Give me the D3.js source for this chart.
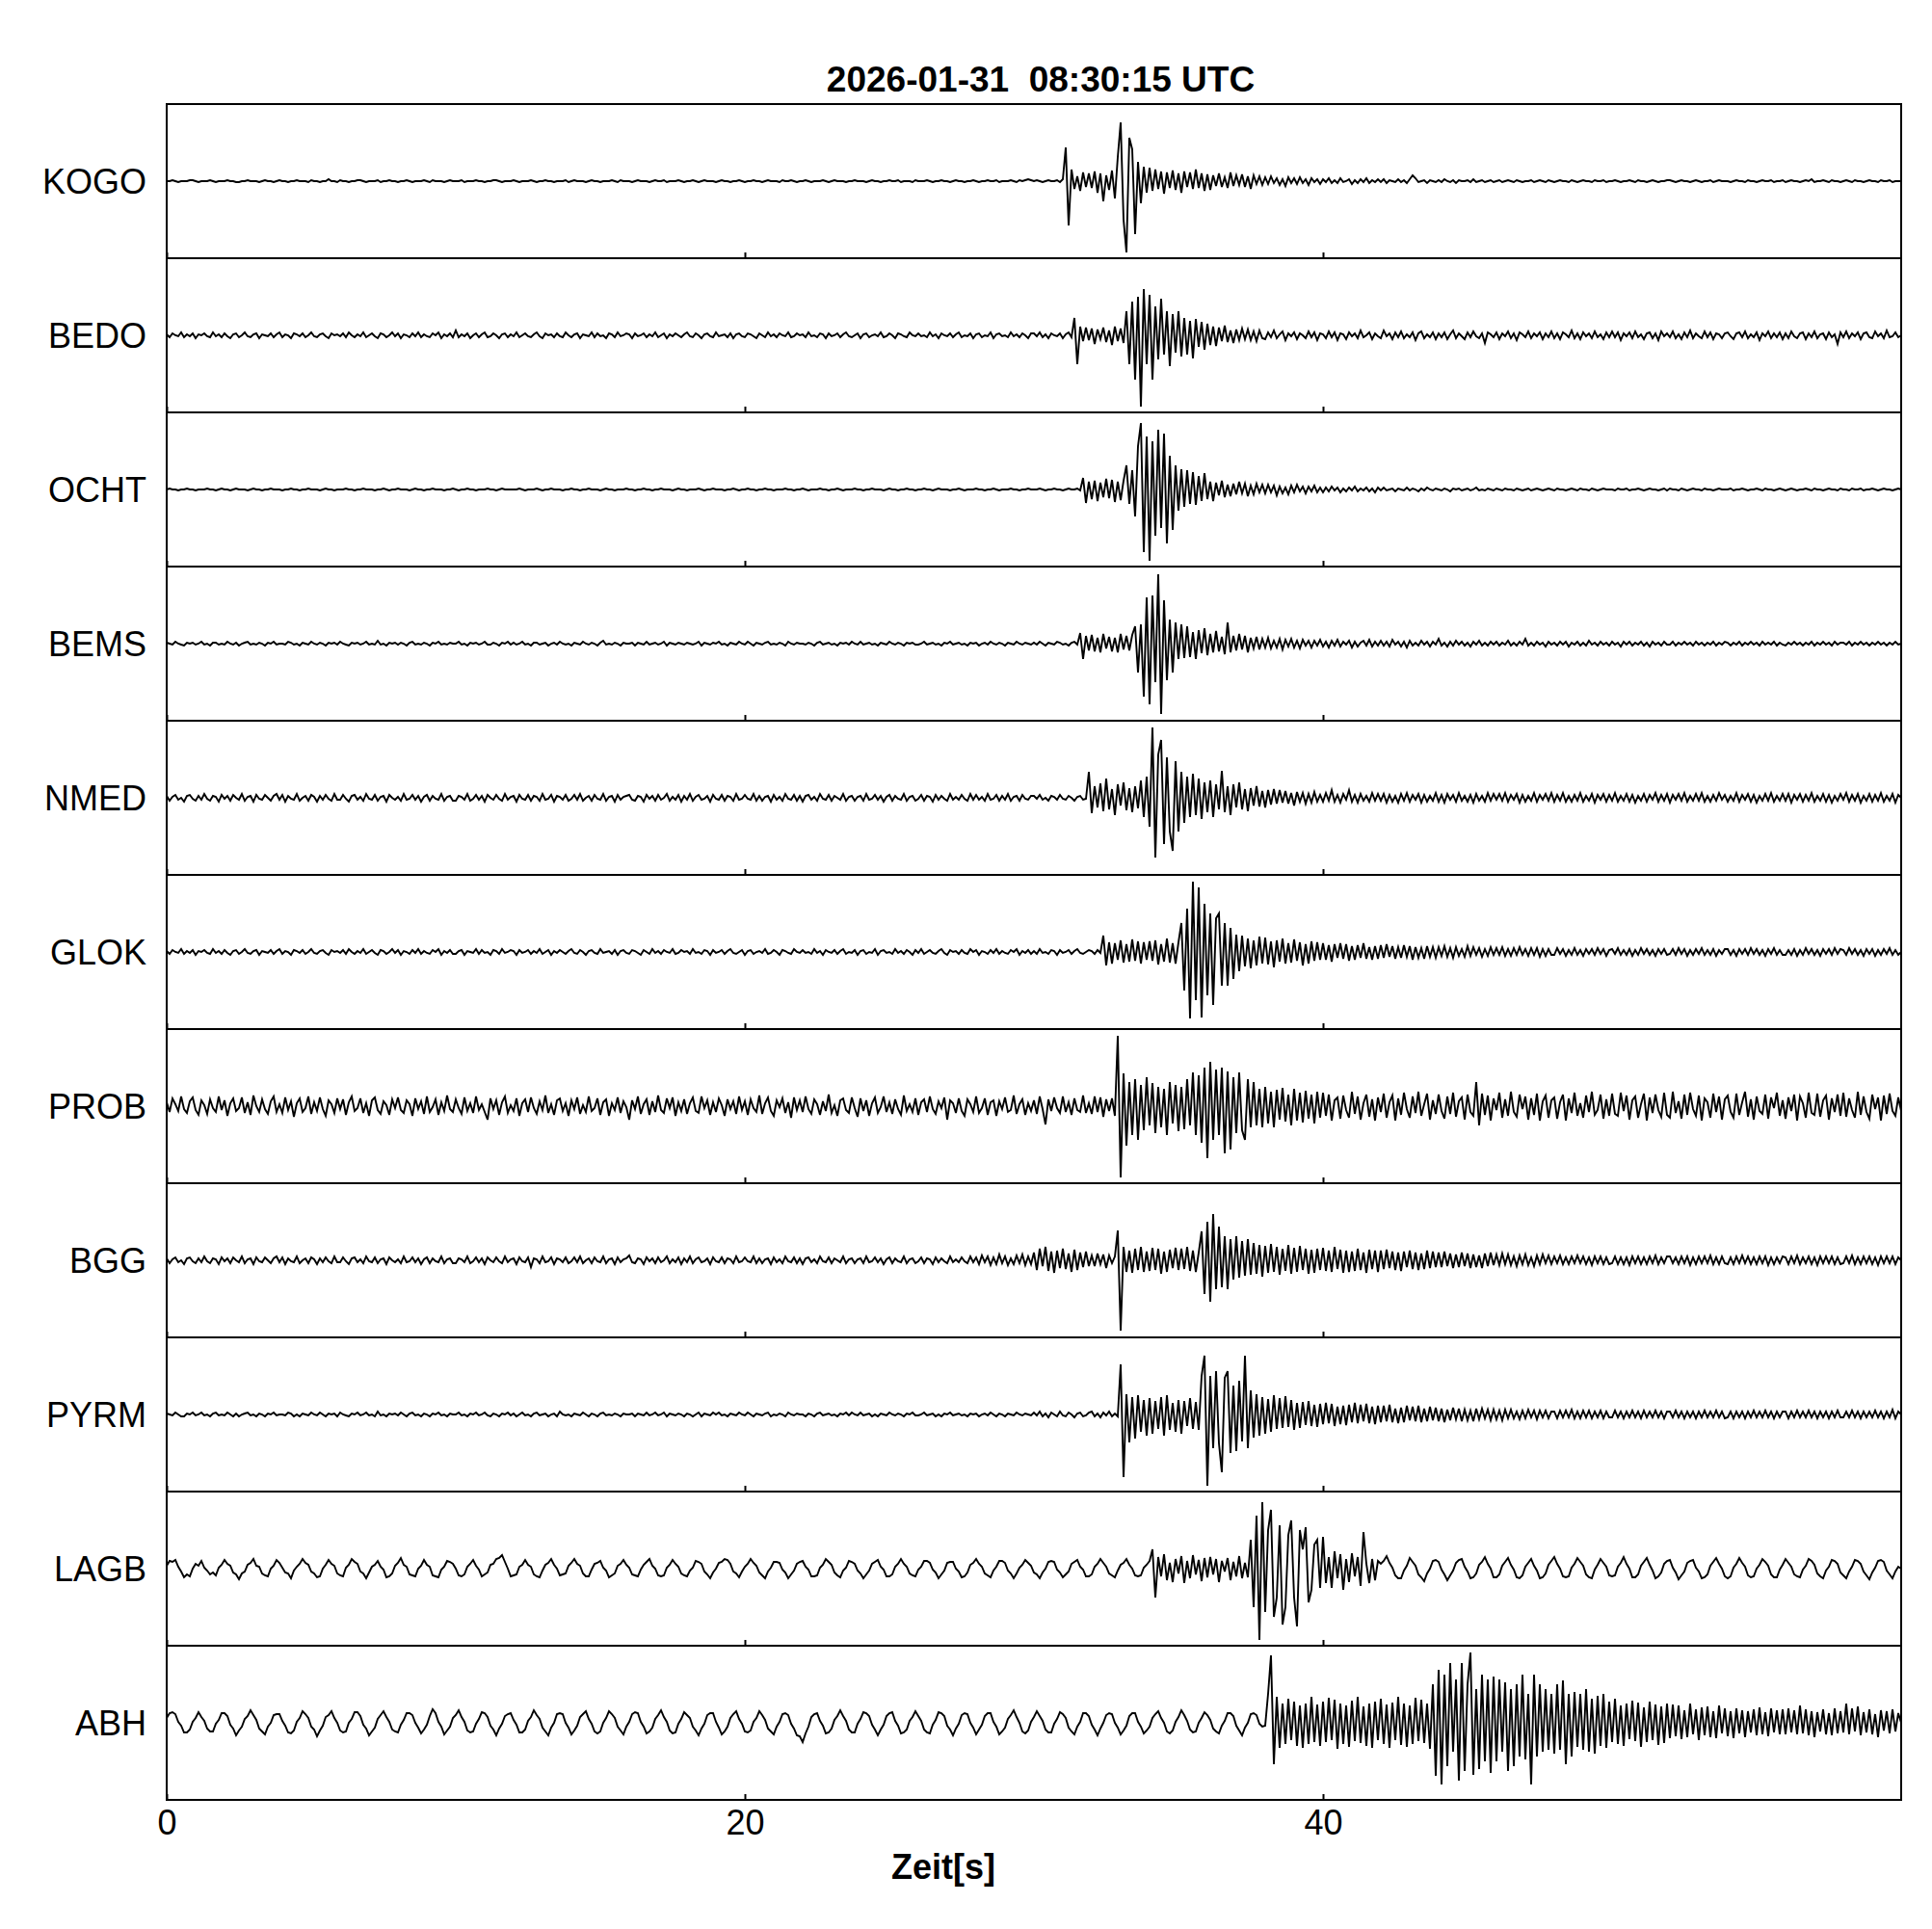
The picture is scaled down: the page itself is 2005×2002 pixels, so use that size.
<!DOCTYPE html>
<html>
<head>
<meta charset="utf-8">
<script src="https://cdn.jsdelivr.net/npm/d3@7"></script>
<style>
body { margin: 0; background: #fff; }
text { font-family: "Liberation Sans", Arial, sans-serif; fill: #000; }
</style>
</head>
<body>
<script>
// station names, top to bottom
var stations = ["KOGO", "BEDO", "OCHT", "BEMS", "NMED", "GLOK", "PROB", "BGG", "PYRM", "LAGB", "ABH"];
var title = "2026-01-31  08:30:15 UTC";
var xLabel = "Zeit[s]";
var xTicks = [0, 20, 40];
var dt = 0.1; // seconds between samples, one row = 2 s

// trace amplitudes, t = 0 ... 60 s
var kogo = [
0,0,1,0,-1,0,0,0,1,1,0,-1,0,0,0,1,0,-1,0,0,
0,1,0,0,-1,-1,0,0,1,0,0,0,-1,0,1,0,0,-1,0,1,
0,0,-1,0,0,1,0,0,0,-1,1,0,0,-1,0,0,2,0,0,-1,
1,0,0,-1,0,0,1,1,0,-1,0,0,0,1,-1,0,0,1,0,0,
-1,0,0,1,0,-1,0,0,0,1,0,-1,1,0,0,0,-1,0,1,0,
0,0,1,-1,0,0,0,1,0,0,-1,0,0,1,1,0,-1,0,0,0,
1,0,-1,0,0,0,1,0,-1,0,0,1,0,0,-1,0,0,0,1,-1,
0,1,0,0,0,-1,0,1,0,0,-1,0,0,0,1,0,-1,1,0,0,
0,-1,0,1,0,0,0,-1,0,1,0,0,1,-1,0,0,0,1,0,-1,
0,0,1,0,-1,0,1,0,0,0,-1,0,1,0,0,-1,0,0,1,0,
-1,0,0,1,0,0,-1,0,1,0,0,0,-1,1,0,0,1,0,-1,0,
0,1,0,-1,0,0,0,1,0,-1,0,1,0,0,0,-1,0,0,1,0,
0,0,-1,0,1,0,0,-1,0,0,1,0,0,1,-1,0,0,0,-1,1,
0,0,0,1,0,-1,0,0,1,0,0,-1,0,1,0,0,-1,0,0,1,
0,-1,0,0,1,0,0,1,-1,0,0,0,1,0,-1,1,0,1,2,1,
0,1,0,-1,0,1,0,0,1,-1,2,35,-46,12,-8,5,-10,9,-6,8,
-7,10,-12,8,-21,6,-9,11,-18,25,61,-40,-74,45,33,-55,20,-23,15,-12,
14,-10,12,-8,10,-13,9,-7,11,-9,8,-12,10,-6,9,-8,12,-7,8,-10,
7,-9,6,-5,8,-6,4,-7,9,-5,6,-4,7,-6,5,-8,6,-3,5,-4,
4,-3,5,-2,3,-4,2,-5,4,-2,3,-3,4,-2,2,-4,3,-1,2,-3,
2,-1,3,-2,1,-2,3,-1,0,2,-3,1,-2,2,-1,3,-2,1,-1,2,
-1,2,-2,1,0,-1,2,-1,1,-2,2,6,3,-1,0,1,-2,1,0,-1,
1,-1,2,0,-1,1,-2,1,0,0,1,-1,2,-1,0,1,-1,0,1,-1,
0,1,-1,0,1,0,-1,1,0,-1,0,0,1,-1,0,1,0,-1,1,0,
-1,0,1,0,0,-1,1,0,-1,0,1,0,0,-1,1,0,0,1,-1,0,
0,1,0,-1,0,0,1,0,-1,1,0,0,-1,0,1,0,-1,0,0,1,
1,0,-1,0,1,0,0,-1,0,1,0,-1,0,0,1,-1,0,1,0,0,
0,-1,0,1,0,0,-1,1,0,0,-1,0,1,0,0,1,-1,0,0,1,
-1,0,1,0,0,-1,0,1,0,2,-1,0,0,1,0,-1,1,0,0,-1,
0,1,0,-1,1,0,0,-1,0,1,0,0,-1,1,0,0,1,-1,0,0, 0];

var bedo = [
1,-2,2,0,-1,3,-2,1,-1,2,-3,1,0,2,-1,-2,3,-1,1,-2,
2,-1,-3,1,2,-2,0,3,-1,-2,1,2,-3,1,0,-1,2,-2,1,3,
-2,1,0,-3,2,1,-1,2,-2,0,3,-1,-2,1,2,-1,-3,2,0,1,
-1,2,-2,3,0,-2,1,-1,3,-2,0,2,-1,-3,2,1,-2,0,3,-1,
2,-3,1,0,-2,2,-1,3,-2,1,-1,-2,2,0,3,-3,1,-1,2,-2,
5,-2,1,-1,2,-3,0,2,-2,1,3,-2,-1,2,0,-3,1,2,-2,1,
-1,3,-2,0,2,-1,-2,1,3,-1,-3,2,0,1,-2,2,-1,-2,3,0,
-2,1,2,-3,1,0,-1,3,-2,2,-1,0,-3,2,1,-2,3,-1,0,2,
1,-3,2,-1,0,2,-2,1,-1,3,-2,0,2,-3,1,-1,2,0,-2,1,
3,-1,-2,2,0,-3,1,2,-1,-2,3,-1,0,1,-2,2,-3,1,2,-1,
-2,2,1,-1,-3,2,0,-2,3,-1,1,-2,2,0,-1,3,-2,-1,2,0,
1,-2,3,-1,0,-2,2,1,-3,2,-1,0,2,-2,1,3,-1,-2,0,2,
-3,1,2,-2,0,1,-1,3,-2,-1,2,0,-3,2,1,-1,-2,3,0,-1,
2,-1,0,-2,3,-1,1,-3,2,0,-1,2,-2,1,3,-2,0,-1,2,-3,
1,2,-2,0,-1,3,-3,1,2,-1,0,-2,3,-1,1,-2,2,0,-3,2,
2,-1,3,-2,1,-3,2,0,-1,2,-3,1,3,-2,18,-30,9,-6,8,-5,
7,-9,6,-4,8,-7,5,-10,9,-6,7,-8,25,-30,35,-46,40,-74,48,-30,
42,-46,30,-25,38,-20,25,-32,22,-18,25,-22,18,-20,15,-24,17,-12,14,-15,
12,-10,9,-11,8,-6,10,-7,5,-8,6,-5,7,-4,6,-5,4,-6,5,-3,
-4,3,-2,5,-3,1,4,-5,2,-1,3,-4,2,0,-3,4,-2,3,-5,2,
1,-3,4,-2,3,-5,2,1,-4,3,-1,2,-3,5,-2,0,3,-4,2,-1,
-3,5,-1,2,-4,3,-2,4,-3,1,-2,3,-5,2,4,-3,1,-2,3,-4,
2,-2,3,-4,1,5,-3,2,-1,-4,3,-2,4,-1,-3,2,-8,3,1,-2,
3,-4,2,-1,4,-3,2,-5,3,1,-2,4,-3,2,-1,3,-4,2,-2,4,
-3,2,-4,3,1,-2,5,-3,2,-4,3,-1,2,-3,4,-2,1,-4,3,-2,
4,-2,3,-5,2,-1,3,-3,4,-2,1,-4,2,3,-3,2,-5,4,-1,2,
-2,4,-3,1,-4,3,-2,5,-3,2,-1,-3,4,-2,3,-4,2,1,-3,2,
3,-1,-4,2,3,-2,4,-3,1,-2,3,-5,2,-1,4,-3,2,-2,3,-4,
2,-3,4,-1,-3,2,3,-4,2,-2,4,-3,1,2,-4,3,-2,1,-9,3,
-2,4,-3,2,-1,3,-4,2,3,-2,-3,4,-1,2,-3,5,-2,-1,3,-2, 0];

var ocht = [
0,1,0,0,-1,0,0,1,0,0,-1,0,0,0,1,0,0,-1,0,1,
0,0,-1,0,1,0,0,0,-1,0,1,0,0,-1,0,0,1,0,0,0,
-1,0,0,1,0,0,-1,0,0,1,0,0,0,-1,0,1,0,0,-1,0,
0,0,1,0,0,-1,0,0,1,0,0,0,-1,0,0,1,0,-1,0,0,
1,0,0,0,-1,0,1,0,0,-1,0,0,1,0,0,0,-1,0,0,1,
0,-1,0,0,1,0,0,-1,0,0,0,1,0,0,-1,0,1,0,0,0,
0,0,1,0,-1,0,0,0,1,0,-1,0,0,1,0,0,0,-1,0,0,
1,0,0,-1,0,0,1,0,0,0,-1,0,1,0,0,-1,0,0,0,1,
0,0,-1,0,0,1,0,0,-1,0,0,1,0,0,0,-1,0,1,0,0,
-1,0,0,0,1,0,-1,0,0,1,0,0,0,-1,0,0,1,0,-1,0,
0,1,0,0,-1,0,0,1,0,0,-1,0,0,0,1,0,0,-1,0,0,
1,0,-1,0,0,0,1,0,0,-1,0,0,1,0,-1,0,0,0,1,0,
0,-1,0,0,1,0,0,0,-1,0,1,0,0,-1,0,0,1,0,0,-1,
0,0,1,0,0,-1,0,1,0,0,0,-1,0,0,1,0,-1,0,0,0,
1,0,0,-1,0,0,1,0,-1,0,0,0,1,0,0,-1,0,0,1,0,
0,0,1,0,-1,0,0,1,0,0,-1,0,1,0,0,1,-1,12,-14,8,
-10,9,-12,7,-8,11,-9,10,-13,8,-11,9,25,-15,20,-28,45,69,-65,55,
-74,50,-48,62,-40,58,-56,35,-42,25,-22,21,-18,20,-15,18,-16,14,-12,17,
-10,8,-12,7,-6,9,-8,5,-7,6,-5,8,-4,6,-7,4,-5,6,-3,5,
-4,5,-3,4,-6,3,-4,2,-5,4,-3,5,-2,3,-4,3,-2,4,-3,2,
-3,2,-2,3,-1,2,-3,1,-2,2,-1,3,-2,1,-1,2,-2,1,-3,2,
-1,2,-1,0,1,-2,1,0,-1,2,-1,1,0,-2,1,-1,2,0,-1,1,
0,-1,1,0,-2,1,0,1,-1,0,1,-1,0,2,-1,0,-1,1,0,-1,
1,0,-1,1,0,0,-1,1,0,-1,0,1,-1,0,1,0,-1,0,1,0,
-1,1,0,0,-1,0,1,0,-1,1,0,0,-1,1,0,-1,0,1,0,0,
0,-1,1,0,0,1,-1,0,0,1,0,-1,0,1,0,0,-1,0,1,-1,
1,0,0,-1,1,0,-1,0,1,0,0,-1,1,0,0,-1,0,1,0,0,
0,1,-1,0,0,1,0,-1,0,0,1,0,-1,1,0,0,-1,0,1,0,
-1,0,1,0,-1,0,0,1,0,-1,1,0,0,-1,0,1,0,0,-1,1,
0,0,-1,1,0,0,1,-1,0,0,1,0,-1,0,1,0,0,-1,0,1, 0];

var bems = [
1,0,-1,2,0,-1,-2,1,0,1,-1,0,2,-1,0,-2,1,1,-1,0,
-1,2,0,-1,1,-2,0,1,2,-1,0,-1,1,0,-2,1,0,2,-1,0,
0,-1,2,1,-1,0,-2,1,0,-1,2,0,-1,1,0,-2,1,0,1,-1,
2,0,-1,-2,1,0,1,-1,0,2,-1,0,-1,3,-1,0,-2,1,0,1,
-1,1,0,-2,1,2,-1,0,-1,1,0,-2,1,0,2,-1,0,-1,1,0,
0,2,-1,0,-2,1,0,1,-1,0,2,-1,-1,1,0,-2,1,0,2,-1,
1,-1,0,2,-1,0,-2,1,1,-1,0,1,-2,0,1,-1,2,0,-1,0,
-2,1,0,-1,2,0,-1,1,0,-2,1,3,-1,0,-1,1,0,-2,1,0,
0,1,-2,1,0,-1,2,-1,0,1,-1,0,2,-2,1,0,-1,1,0,-1,
1,0,-1,0,2,-2,1,0,-1,1,0,2,-1,0,-2,1,0,-1,2,0,
-1,2,0,-2,1,0,-1,1,2,-1,0,-1,1,0,-2,2,0,-1,1,0,
0,-1,1,0,-2,1,2,-1,0,1,-1,0,-2,1,0,1,-1,2,0,-1,
2,-1,0,1,-1,0,-2,1,0,-1,2,0,-1,1,0,-2,1,0,1,-1,
-1,0,2,-1,0,1,-1,0,-2,1,0,2,-1,0,1,-1,0,-2,1,0,
1,-2,0,1,-1,2,0,-1,1,0,-2,1,0,-1,2,0,-1,1,0,-1,
1,-1,2,0,-2,1,0,-1,2,1,-1,0,-2,1,2,-1,11,-16,8,-7,
9,-8,6,-9,10,-5,7,-8,6,-9,10,-6,8,-7,9,18,-30,20,-55,48,
-63,50,-40,72,-73,45,-38,25,-30,22,-16,20,-15,18,-14,12,-16,14,-10,16,
-12,10,-9,13,-8,7,-11,22,-9,8,-7,10,-6,8,-9,6,-5,7,-6,5,
-4,6,-5,3,-4,5,-6,4,-3,5,-4,3,-5,4,-2,3,-4,3,-2,4,
-3,2,-4,3,-2,4,-3,2,-1,3,-4,2,-3,1,3,-2,4,-3,2,-2,
3,-2,2,-3,4,-1,2,-3,2,-4,3,-2,1,-2,3,-1,2,-3,2,-1,
5,-2,1,-3,2,-2,3,-1,2,-2,1,-3,2,-1,3,-2,1,-2,2,-1,
2,-2,1,-1,3,-2,1,-2,2,-1,5,-2,1,-2,2,-1,1,-3,2,-1,
1,-2,2,-1,2,-3,1,-1,2,-2,1,-2,3,-1,1,-2,2,-1,1,-2,
2,-1,1,-3,2,-1,2,-2,1,-1,2,-2,1,-3,2,-1,1,-2,2,-1,
-1,2,-2,1,-1,2,-1,1,-2,2,-1,1,-2,1,-1,2,-2,1,-1,2,
1,-2,1,-1,2,-2,1,-1,2,-1,1,-2,2,-1,1,-1,2,-2,1,-1,
-2,1,-1,2,-1,1,-2,1,-1,2,-2,1,-1,2,-1,1,-2,2,-1,1,
1,-1,2,-2,1,-1,2,-1,1,-2,1,-1,2,-1,1,-2,1,-1,2,-1, 0];

var nmed = [
2,-3,1,3,-2,0,-4,2,3,-1,-3,2,-2,4,-1,-3,2,1,-4,3,
-1,2,-3,3,0,-2,4,-3,1,2,-4,3,-1,-2,3,0,-3,2,4,-2,
3,-4,2,-1,-2,4,-3,0,2,-3,3,1,-4,2,-2,3,-1,-3,4,-2,
-2,3,-1,-4,2,3,-2,1,-3,4,-1,-2,3,-3,1,2,-4,3,0,-2,
1,-3,4,-2,-1,3,-2,2,-4,1,3,-3,2,-1,-2,4,-3,1,2,-3,
-3,2,1,-2,4,-3,-1,3,-2,2,-4,3,0,-2,3,-1,-3,4,-2,1,
2,-4,3,-1,-2,3,-3,2,1,-3,4,-2,-1,3,-4,2,1,-2,3,-3,
-1,3,-2,4,-3,0,2,-3,3,-1,-2,4,-3,1,2,-4,3,-2,1,2,
3,-2,-3,2,1,-4,3,-1,2,-3,3,-2,0,4,-3,1,-2,3,-4,2,
-2,4,-3,1,3,-2,-1,2,-4,3,-1,-2,3,-3,2,1,-3,4,-2,-1,
3,-1,-2,4,-3,2,-3,1,2,-4,3,-2,1,-3,4,-1,-2,3,-3,2,
-4,2,3,-2,1,-3,4,-1,-2,3,-3,2,0,-2,4,-3,1,2,-3,1,
2,-3,4,-2,-1,3,-2,2,-4,1,3,-3,2,-1,-2,4,-3,1,2,-3,
-1,3,-3,2,1,-4,3,-2,2,-1,-3,4,-2,1,-2,3,-1,-3,4,-2,
3,-2,1,-3,4,-2,-1,3,-3,2,-2,4,-3,1,2,-3,3,-1,-2,2,
2,-1,3,-2,0,-3,2,1,-2,3,-1,-2,2,0,-3,1,2,-2,-1,27,
-16,12,-10,15,-14,20,-12,9,-18,14,-8,16,-13,10,-15,12,-11,18,-20,22,
-30,73,-62,45,60,-48,42,-35,-55,38,-35,27,-26,22,-20,25,-18,20,-22,16,
-15,18,-20,14,-12,28,-15,12,-18,14,-10,16,-12,9,-14,10,-8,12,-9,7,
-10,8,-7,9,-6,8,-5,7,-6,5,-8,6,-4,5,-6,4,-5,6,-4,3,
-4,5,-3,8,-4,3,-5,4,-2,8,-4,3,-5,4,-3,2,-4,5,-3,4,
-3,4,-5,3,-4,2,-5,4,-3,5,-4,3,-2,4,-5,3,-4,2,-3,5,
-4,3,-5,4,-2,3,-4,5,-3,2,-4,3,-5,4,-3,2,-4,5,-3,4,
-2,4,-3,5,-4,3,-2,4,-5,3,-4,2,-3,5,-4,3,-2,4,-3,5,
-4,3,-3,5,-4,2,-4,3,-3,5,-4,2,-3,4,-5,3,-2,4,-4,3,
-3,5,-4,2,-3,4,-4,3,-5,2,-3,4,-4,3,-2,5,-4,3,-3,4,
-5,3,-2,4,-3,5,-4,2,-3,4,-3,5,-4,2,-4,3,-3,5,-2,3,
-4,2,-3,5,-4,3,-2,4,-4,3,-5,2,-3,4,-3,5,-4,2,-3,4,
-3,4,-5,3,-2,4,-4,3,-3,5,-4,2,-3,4,-4,3,-5,2,-3,4,
-2,5,-4,3,-3,4,-5,2,-3,4,-4,3,-3,5,-4,2,-3,4,-5,3, 0];

var glok = [
1,-2,2,0,-1,3,-2,1,-1,2,-3,1,0,2,-1,-2,3,-1,1,-2,
2,-1,-3,1,2,-2,0,3,-1,-2,1,2,-3,1,0,-1,2,-2,1,3,
-2,1,0,-3,2,1,-1,2,-2,0,3,-1,-2,1,2,-1,-3,2,0,1,
-1,2,-2,3,0,-2,1,-1,3,-2,0,2,-1,-3,2,1,-2,0,3,-1,
2,-3,1,0,-2,2,-1,3,-2,1,-1,-2,2,0,3,-3,1,-1,2,-2,
-2,1,2,-3,1,0,-1,3,-2,2,-1,0,-3,2,1,-2,3,-1,0,2,
1,-3,2,-1,0,2,-2,1,-1,3,-2,0,2,-3,1,-1,2,0,-2,1,
3,-1,-2,2,0,-3,1,2,-1,-2,3,-1,0,1,-2,2,-3,1,2,-1,
-2,2,1,-1,-3,2,0,-2,3,-1,1,-2,2,0,-1,3,-2,-1,2,0,
1,-2,3,-1,0,-2,2,1,-3,2,-1,0,2,-2,1,3,-1,-2,0,2,
-3,1,2,-2,0,1,-1,3,-2,-1,2,0,-3,2,1,-1,-2,3,0,-1,
2,-1,0,-2,3,-1,1,-3,2,0,-1,2,-2,1,3,-2,0,-1,2,-3,
1,2,-2,0,-1,3,-3,1,2,-1,0,-2,3,-1,1,-2,2,0,-3,2,
-1,3,-2,0,2,-1,-2,1,3,-1,-3,2,0,1,-2,2,-1,-2,3,0,
2,-3,1,0,-2,2,-1,3,-2,1,-1,-2,2,0,3,-3,1,-1,2,-2,
1,-2,3,-1,0,-2,2,1,-3,2,-1,0,2,-2,1,3,-1,-2,0,2,
1,-2,2,-1,17,-14,10,-12,9,-8,12,-11,8,-10,13,-9,11,-12,10,-8,
11,-9,12,-13,8,-10,14,-11,9,-12,10,30,-40,45,-69,73,-50,67,-68,50,
-45,40,-55,35,40,-35,30,-35,25,-28,18,-20,17,-15,14,-17,12,-14,16,-12,
15,-13,11,-16,12,-10,14,-12,9,-11,13,-9,10,-14,8,-12,11,-9,10,-8,
9,-8,7,-10,8,-6,9,-7,8,-9,6,-8,7,-6,9,-7,5,-8,6,-7,
7,-6,8,-5,6,-7,5,-6,7,-5,6,-8,5,-6,4,-7,6,-5,5,-6,
5,-4,6,-5,4,-6,5,-4,3,-5,6,-4,5,-3,4,-5,3,-4,5,-3,
4,-3,5,-4,3,-4,4,-3,5,-3,3,-4,4,-3,4,-5,3,-4,3,-3,
-3,4,-2,3,-4,2,-3,4,-3,2,-4,3,-2,3,-3,4,-2,3,-4,2,
3,-2,4,-3,2,-3,3,-4,2,-3,4,-2,3,-3,2,-4,3,-2,3,-3,
-2,3,-3,4,-2,3,-4,2,-3,3,-2,4,-3,2,-3,3,-4,2,-2,3,
3,-3,2,-4,3,-2,3,-3,4,-2,3,-3,2,-4,3,-2,4,-3,2,-3,
-3,2,-3,3,-4,2,-3,4,-2,3,-3,2,-4,3,-2,3,-3,4,-2,3,
2,-3,4,-2,3,-3,2,-4,3,-2,3,-4,2,-3,3,-2,4,-3,2,-3, 0];

var prob = [
4,-6,8,2,-5,10,-3,-7,5,9,-4,-9,6,1,-8,7,-2,-6,10,-4,
6,-10,3,8,-5,-2,9,-7,4,-9,11,0,-6,7,-3,-8,5,10,-6,2,
-7,9,-4,5,-11,3,8,-6,-2,10,-8,4,-5,9,-3,-10,6,2,-7,8,
-3,7,-9,4,10,-5,-2,8,-7,3,-10,6,9,-4,-8,5,1,-9,7,-2,
9,-4,-7,6,2,-10,8,-3,5,-8,10,-6,-1,7,-9,4,-5,11,-3,-6,
7,-2,-8,9,-5,3,-7,10,-4,2,-6,-14,8,-3,6,-9,4,10,-7,1,
-5,8,-10,3,7,-6,9,-2,-8,5,-4,11,-7,2,-9,6,8,-5,3,-10,
6,-3,9,-8,1,-6,10,-5,-2,8,-9,4,7,-10,3,-4,9,-7,5,-1,
-14,6,-3,10,-8,2,7,-9,5,-6,11,-4,-7,8,-2,9,-10,4,-5,7,
-8,3,9,-5,-7,10,-2,6,-9,4,-6,8,1,-10,7,-3,5,-8,10,-4,
5,-9,7,-2,-6,11,-8,3,9,-5,-10,6,-1,8,-7,4,-12,9,-4,6,
-6,10,-3,-8,7,2,-9,5,-5,12,-7,1,-10,6,8,-4,-7,9,-2,-11,
8,-5,6,-10,3,9,-7,-1,10,-6,4,-8,7,-3,-9,11,-5,2,-6,8,
-9,4,7,-6,10,-3,-8,5,-2,9,-14,6,3,-7,8,-5,-10,7,2,-6,
10,-7,-2,8,-9,4,6,-10,5,-3,9,-6,-4,11,-8,2,7,-9,3,-5,
6,-8,10,-3,-19,7,-5,9,-2,-7,10,-6,4,-9,8,-4,-6,11,-7,3,
-8,10,-6,9,-11,7,-5,8,-10,73,-74,34,-41,25,-30,28,-35,22,-25,30,
-20,24,-28,20,-22,18,-30,25,-18,22,-26,20,-24,28,-20,35,-30,32,-38,40,
-54,46,-35,38,-30,40,-49,36,-45,30,-28,35,-25,-35,28,-22,25,-20,18,-22,
20,-18,15,-22,17,-14,19,-16,12,-20,18,-15,14,-17,16,-13,12,-18,15,-12,
14,-10,12,-15,6,9,-13,11,-4,-12,15,-8,10,-14,3,12,-11,7,-15,9,
-6,13,-12,4,11,-15,8,-9,14,-3,-12,10,-7,15,-10,2,13,-14,6,-8,
12,-5,-13,10,-8,14,-11,5,9,-14,12,-6,-10,25,-20,13,-9,11,-15,8,
-4,14,-12,7,-10,15,-6,-11,12,-3,10,-14,8,-9,13,-15,5,11,-12,6,
9,-13,4,12,-15,8,-7,14,-10,3,-12,11,-6,15,-9,-4,12,-13,7,-10,
13,-8,-10,14,-5,11,-14,6,10,-12,2,13,-15,9,-7,12,-4,-11,14,-9,
-12,15,-7,5,-13,12,-9,14,-3,-10,11,-15,8,4,-12,13,-6,10,-14,7,
11,-6,-12,13,-9,4,15,-11,7,-14,10,-5,-8,12,-13,9,-2,14,-10,6,
-13,9,-5,12,-15,10,3,-12,14,-7,-9,13,-11,6,11,-14,8,-6,12,-10,
14,-11,8,-4,-12,15,-9,10,-6,-13,12,-3,9,-15,11,-8,13,-5,-10,9, -5];

var bgg = [
2,-3,1,3,-2,0,-4,2,3,-1,-3,2,-2,4,-1,-3,2,1,-4,3,
-1,2,-3,3,0,-2,4,-3,1,2,-4,3,-1,-2,3,0,-3,2,4,-2,
3,-4,2,-1,-2,4,-3,0,2,-3,3,1,-4,2,-2,3,-1,-3,4,-2,
-2,3,-1,-4,2,3,-2,1,-3,4,-1,-2,3,-3,1,2,-4,3,0,-2,
1,-3,4,-2,-1,3,-2,2,-4,1,3,-3,2,-1,-2,4,-3,1,2,-3,
-3,2,1,-2,4,-3,-1,3,-2,2,-4,3,0,-2,3,-1,-3,4,-2,1,
2,-4,3,-1,-2,3,-7,2,1,-3,4,-2,-1,3,-4,2,1,-2,3,-3,
-1,3,-2,4,-3,0,2,-3,3,-1,-2,4,-3,1,2,-4,3,-2,1,2,
5,-2,-3,2,1,-4,3,-1,2,-3,3,-2,0,4,-3,1,-2,3,-4,2,
-2,4,-3,1,3,-2,-1,2,-4,3,-1,-2,3,-3,2,1,-3,4,-2,-1,
3,-1,-2,4,-3,2,-3,1,2,-4,3,-2,1,-3,4,-1,-2,3,-3,2,
-4,2,3,-2,1,-3,4,-1,-2,3,-3,2,0,-2,4,-3,1,2,-3,1,
2,-3,4,-2,-1,3,-2,2,-4,1,3,-3,2,-1,-2,4,-3,1,2,-3,
-1,3,-3,2,1,-4,3,-2,2,-1,-3,4,-2,1,-2,3,-1,-3,4,-2,
3,-4,5,-2,4,-5,3,-4,6,-3,4,-5,2,-4,5,-3,6,-5,4,-4,
8,-10,12,-6,14,-11,9,-13,10,-8,12,-9,7,-12,11,-10,8,-7,9,-6,
5,-6,7,-4,6,-8,5,-3,4,31,-73,14,-12,10,-13,12,-10,14,-12,9,
-11,13,-10,12,-14,9,-12,11,-8,13,-10,12,-9,14,-11,10,-12,8,30,-35,
40,-43,48,-30,35,-28,25,-30,22,-20,25,-18,20,-16,22,-15,18,-14,16,-17,
15,-13,17,-12,14,-15,12,-11,16,-14,13,-12,15,-10,12,-14,11,-13,12,-10,
13,-11,10,-12,14,-9,11,-13,10,-12,9,-11,12,-10,8,-13,11,-9,10,-12,
10,-9,11,-8,9,-10,8,-11,9,-7,10,-9,8,-10,7,-9,10,-8,9,-7,
8,-7,9,-6,7,-8,6,-7,8,-6,7,-8,6,-7,5,-8,7,-6,8,-5,
6,-5,7,-4,6,-5,4,-6,5,-4,6,-5,3,-6,5,-4,6,-3,5,-4,
4,-3,5,-4,3,-4,4,-3,5,-3,4,-4,3,-5,4,-3,4,-4,3,-4,
-3,4,-4,3,-4,3,-5,4,-3,4,-4,3,-4,4,-3,5,-4,3,-3,4,
4,-3,3,-4,4,-3,4,-5,3,-4,4,-3,4,-3,5,-4,3,-4,4,-3,
-4,3,-4,4,-3,5,-3,4,-4,3,-4,4,-3,4,-5,3,-4,3,-3,4,
3,-4,4,-3,5,-4,3,-3,4,-4,3,-5,4,-3,4,-3,4,-4,3,-4,
-3,4,-3,5,-4,3,-4,4,-3,4,-4,3,-5,4,-3,4,-3,4,-4,3, 0];

var pyrm = [
1,0,-1,2,0,-2,-2,1,0,2,-1,0,2,-1,0,-2,1,2,-1,0,
-1,2,0,-2,1,-2,0,1,2,-1,0,-2,1,0,-2,1,0,2,-1,0,
0,-1,2,1,-2,0,-2,1,0,-1,2,0,-1,2,0,-2,1,0,1,-2,
2,0,-1,-2,1,0,2,-1,0,2,-1,0,-2,3,-1,0,-2,1,0,1,
-1,2,0,-2,1,2,-1,0,-2,1,0,-2,1,0,2,-1,0,-2,1,0,
0,2,-1,0,-2,1,0,2,-1,0,2,-1,-2,1,0,-2,1,0,2,-1,
1,-2,0,2,-1,0,-2,1,2,-1,0,1,-2,0,1,-2,3,0,-1,0,
-2,1,0,-1,2,0,-2,1,0,-2,1,2,-1,0,-1,1,0,-2,1,0,
0,1,-2,1,0,-1,2,-1,0,2,-1,0,2,-2,1,0,-1,1,0,-2,
1,0,-2,0,2,-2,1,0,-1,2,0,2,-1,0,-2,1,0,-1,2,0,
-1,2,0,-2,1,0,-1,1,2,-2,0,-1,1,0,-2,2,0,-1,1,0,
0,-2,1,0,-2,1,2,-1,0,1,-1,0,-2,1,0,2,-1,2,0,-1,
2,-1,0,1,-2,0,-2,1,0,-1,2,0,-1,1,0,-2,1,0,2,-1,
-1,0,2,-1,0,1,-2,0,-2,1,0,2,-1,0,1,-1,0,-2,1,0,
1,-2,0,1,-1,2,0,-2,1,0,-2,1,0,-1,2,0,-1,1,0,-1,
2,-1,3,-2,1,-3,2,0,-2,3,-1,-2,2,0,-3,1,2,-2,-1,2,
3,-2,1,-3,2,-1,3,-2,1,-2,52,-65,21,-29,18,-25,20,-18,15,-22,
17,-20,14,-15,18,-22,20,-16,12,-18,15,-20,14,-12,17,-15,13,-16,40,61,
-74,40,-35,45,-30,-60,38,45,-40,30,-38,35,-28,61,-35,25,-24,21,-22,18,
-20,16,-18,20,-15,17,-14,19,-13,15,-16,12,-14,13,-11,14,-12,10,-13,11,
-10,12,-9,11,-12,8,-10,9,-11,10,-8,12,-9,10,-7,11,-9,8,-10,9,
-8,9,-7,10,-8,6,-9,7,-8,9,-6,8,-7,9,-8,6,-7,8,-6,7,
-7,6,-8,5,-6,7,-5,6,-7,5,-6,4,-7,6,-5,6,-4,5,-6,5,
-5,4,-6,5,-4,5,-4,3,-5,4,-4,5,-3,4,-5,4,-3,4,-4,3,
3,-4,4,-3,4,-3,5,-4,3,-4,4,-3,4,-4,3,-3,4,-4,3,-3,
-3,4,-3,3,-4,3,-3,4,-3,3,-4,4,-3,3,-3,4,-3,3,-4,3,
3,-3,4,-3,3,-4,3,-3,3,-4,3,-3,4,-3,3,-3,4,-3,3,-4,
-3,3,-4,3,-3,3,-4,3,-3,4,-3,3,-3,4,-3,3,-4,3,-3,3,
3,-4,3,-3,4,-3,3,-3,4,-3,3,-4,3,-3,3,-4,3,-3,4,-3,
-3,3,-3,4,-3,3,-4,3,-3,3,-3,4,-3,3,-4,3,-3,5,-4,3, 0];

var lagb = [
3,8,7,9,2,-3,-9,-6,-8,0,5,3,8,1,-2,-6,-4,-7,1,4,
9,5,3,-4,-6,-11,-5,-3,4,6,10,3,2,-5,-7,-8,0,3,9,6,
1,-4,-5,-10,-2,2,5,10,6,4,-3,-5,-9,-8,0,4,9,5,3,-5,
-7,-8,1,4,10,7,5,-3,-5,-10,-4,2,4,8,2,-1,-9,-8,-5,3,
6,11,4,2,-6,-7,-8,0,3,9,4,2,-7,-8,-9,-1,2,8,7,5,
0,-7,-8,-6,2,5,9,3,-1,-8,-6,-4,4,5,10,11,14,7,0,-8,
-7,-6,2,4,9,4,2,-6,-8,-9,-2,4,6,10,4,0,-7,-6,-5,3,
6,10,5,3,-5,-8,-8,-1,5,6,8,1,-2,-9,-7,-5,3,5,9,4,
1,-6,-7,-8,-1,4,7,10,3,0,-7,-8,-7,1,4,9,5,2,-5,-7,
-8,-2,1,8,7,5,-3,-6,-10,-4,0,6,7,10,9,5,-3,-5,-9,-3,
2,5,10,6,3,-4,-7,-10,-3,1,7,7,6,-1,-4,-10,-6,-2,5,7,
8,2,-1,-8,-8,-7,1,4,10,7,4,-4,-7,-9,-2,1,8,7,5,-2,
-5,-10,-6,-2,5,7,9,2,-1,-8,-8,-6,2,5,10,5,2,-5,-7,-8,
-1,2,8,8,6,-1,-4,-10,-6,-2,6,7,7,0,-3,-9,-8,-4,4,6,
10,5,2,-5,-7,-9,-2,2,8,8,6,-2,-5,-10,-5,1,4,9,6,3,
-4,-6,-10,-4,0,7,8,7,-1,-4,-9,-6,-3,5,7,9,2,-1,-8,-8,
-6,2,5,10,6,2,-5,-7,-9,-2,4,6,10,4,0,-7,-8,-7,1,4,
8,20,-30,12,-8,15,-12,6,-14,10,-5,13,-15,8,-10,14,-6,9,-13,11,
-9,12,-6,10,-14,8,-3,11,-12,7,-8,13,-10,6,-9,30,-40,55,-74,69,
-45,40,61,-50,-30,45,-58,-40,35,50,-30,-60,40,20,43,-35,-22,25,30,-20,
33,-15,12,-20,18,-10,15,-22,10,-14,16,-8,12,-18,38,5,-15,10,-12,8,
5,8,13,6,1,-7,-10,-10,-2,3,11,7,3,-6,-9,-13,-5,0,8,9,
7,-1,-6,-12,-7,-2,6,9,10,2,-3,-10,-9,-5,4,7,12,5,0,-9,
-9,-6,3,7,11,4,-1,-9,-10,-7,2,6,10,3,-2,-10,-9,-5,4,8,
12,5,0,-8,-9,-8,1,5,11,7,3,-6,-9,-10,-1,4,10,6,2,-7,
-8,-7,2,6,12,5,0,-9,-9,-6,3,7,11,4,-2,-10,-8,-4,5,8,
9,1,-4,-11,-7,-3,6,8,9,1,-3,-10,-9,-6,3,7,11,5,0,-8,
-10,-8,1,5,11,6,2,-7,-9,-8,0,4,10,7,3,-6,-9,-9,-1,4,
10,6,2,-6,-8,-9,-1,3,10,8,4,-5,-8,-10,-2,2,9,8,5,-4,
-7,-10,-3,2,9,8,5,-3,-7,-11,-4,1,8,9,7,-2,-6,-10,-3,2, 0];

var abh = [
5,10,11,9,1,-3,-10,-10,-7,1,5,11,6,2,-6,-9,-9,-1,3,10,
10,7,-2,-6,-13,-8,-4,4,7,13,8,3,-6,-9,-12,-4,0,8,9,9,
2,-3,-10,-11,-8,1,5,12,9,5,-4,-7,-14,-8,-3,6,8,12,5,0,
-8,-10,-9,0,4,11,11,7,-2,-6,-13,-9,-5,4,8,12,6,1,-7,-9,
-10,-2,3,10,10,8,0,-5,-11,-7,-2,7,14,10,1,-4,-12,-8,-4,5,
8,13,6,1,-8,-10,-9,-1,4,11,10,6,-3,-7,-13,-6,-1,7,9,10,
3,-2,-10,-10,-7,2,6,13,8,4,-5,-9,-13,-5,0,9,10,9,0,-5,
-12,-8,-3,6,9,12,4,-1,-9,-11,-9,0,5,12,9,5,-4,-8,-12,-4,
1,9,11,10,1,-4,-11,-9,-5,4,8,13,6,1,-8,-11,-10,-1,4,11,
8,5,-4,-8,-13,-6,-1,8,10,10,1,-5,-12,-9,-4,5,9,12,4,-1,
-9,-10,-8,1,5,12,8,3,-6,-9,-12,-4,1,9,10,8,-1,-6,-13,-14,
-20,-11,-4,6,9,10,2,-3,-11,-10,-6,3,7,13,7,2,-7,-10,-10,-1,
4,11,10,7,-2,-7,-13,-7,-2,7,10,11,2,-3,-11,-10,-7,2,6,12,
7,2,-7,-10,-11,-2,3,11,10,7,-3,-7,-13,-6,-1,8,10,9,0,-5,
-12,-7,-2,7,10,10,1,-4,-12,-9,-5,4,8,13,6,0,-9,-11,-8,1,
6,12,7,2,-7,-10,-10,-1,4,11,9,5,-5,-9,-12,-4,1,10,10,7,
-2,-7,-13,-6,0,8,10,9,0,-5,-12,-8,-3,7,10,10,1,-4,-11,-8,
-4,5,9,12,5,0,-9,-11,-8,1,6,13,8,2,-7,-10,-9,0,5,11,
8,3,-6,-9,-11,-3,2,10,10,7,-3,-8,-13,-5,0,9,10,8,-1,-4,
-3,30,70,-43,27,-26,20,-22,25,-18,22,-24,18,-26,20,-22,27,-20,19,-24,
22,-20,26,-18,24,-27,20,-22,18,-25,23,-19,27,-21,17,-24,20,-26,22,-18,
25,-22,19,-26,21,-18,27,-23,20,-25,18,-22,26,-19,24,-21,20,-27,40,-55,
55,-64,50,-45,62,-30,45,-60,62,-50,40,73,-54,35,-48,50,-40,45,-52,48,
-40,45,-30,42,-50,35,-45,40,-35,50,-38,30,-64,50,-35,40,-30,35,-28,30,
-32,40,-28,44,-43,30,-35,32,-25,30,-28,35,-30,25,-32,28,-24,30,-26,22,
-20,25,-22,18,-24,20,-17,23,-19,21,-25,16,-20,22,-18,19,-23,17,-21,20,
-16,19,-14,18,-17,13,-15,20,-12,14,-18,16,-13,17,-15,12,-16,18,-11,15,
-14,12,-16,15,-11,13,-15,12,-10,14,-13,16,-12,11,-14,15,-10,13,-12,14,
-12,15,-10,13,-12,18,-11,14,-13,12,-15,11,-9,14,-12,10,-13,15,-11,12,
-10,20,-12,15,-9,17,-13,11,-10,14,-12,9,-15,13,-8,12,-11,14,-9,10, 0];

var traces = [kogo, bedo, ocht, bems, nmed, glok, prob, bgg, pyrm, lagb, abh];

var width = 2005, height = 2002;
var plotLeft = 173, plotRight = 1973, plotTop = 108, panelH = 160;

var svg = d3.select("body").append("svg")
    .attr("width", width)
    .attr("height", height);

// time scale shared by all panels
var x = d3.scaleLinear().domain([0, 60]).range([plotLeft, plotRight]);
// amplitude scale inside one panel
var y = d3.scaleLinear().domain([-80, 80]).range([panelH, 0]);

var line = d3.line()
    .x(function(d, i) { return x(i * dt); })
    .y(function(d) { return y(d); });

stations.forEach(function(name, i) {
    var g = svg.append("g")
        .attr("transform", "translate(0," + (plotTop + i * panelH) + ")");

    // seismogram trace
    g.append("path")
        .datum(traces[i].filter(function(d, j) { return j * dt <= 60; }))
        .attr("d", line)
        .attr("fill", "none")
        .attr("stroke", "#000")
        .attr("stroke-width", 1.9);

    // inward ticks at the bottom of each panel, labels only on the last
    var last = (i === stations.length - 1);
    var ax = g.append("g")
        .attr("transform", "translate(0," + panelH + ")")
        .call(d3.axisBottom(x)
            .tickValues(xTicks)
            .tickSizeInner(-6)
            .tickSizeOuter(0)
            .tickPadding(10)
            .tickFormat(last ? d3.format("d") : function() { return ""; }));
    ax.select(".domain").remove();
    ax.selectAll(".tick line").attr("stroke", "#000").attr("stroke-width", 2);
    ax.selectAll(".tick text")
        .style("font-family", "'Liberation Sans', Arial, sans-serif")
        .style("font-size", "36px")
        .attr("fill", "#000");

    // panel frame
    g.append("rect")
        .attr("x", plotLeft)
        .attr("y", 0)
        .attr("width", plotRight - plotLeft)
        .attr("height", panelH)
        .attr("fill", "none")
        .attr("stroke", "#000")
        .attr("stroke-width", 2);

    // station label
    g.append("text")
        .attr("x", 152)
        .attr("y", y(0) + 13)
        .attr("text-anchor", "end")
        .style("font-size", "36px")
        .text(name);
});

// title
svg.append("text")
    .attr("x", 1080)
    .attr("y", 95)
    .attr("text-anchor", "middle")
    .style("font-size", "37px")
    .style("font-weight", "bold")
    .style("white-space", "pre")
    .text(title);

// x axis label
svg.append("text")
    .attr("x", 979)
    .attr("y", 1950)
    .attr("text-anchor", "middle")
    .style("font-size", "36px")
    .style("font-weight", "bold")
    .text(xLabel);
</script>
</body>
</html>
